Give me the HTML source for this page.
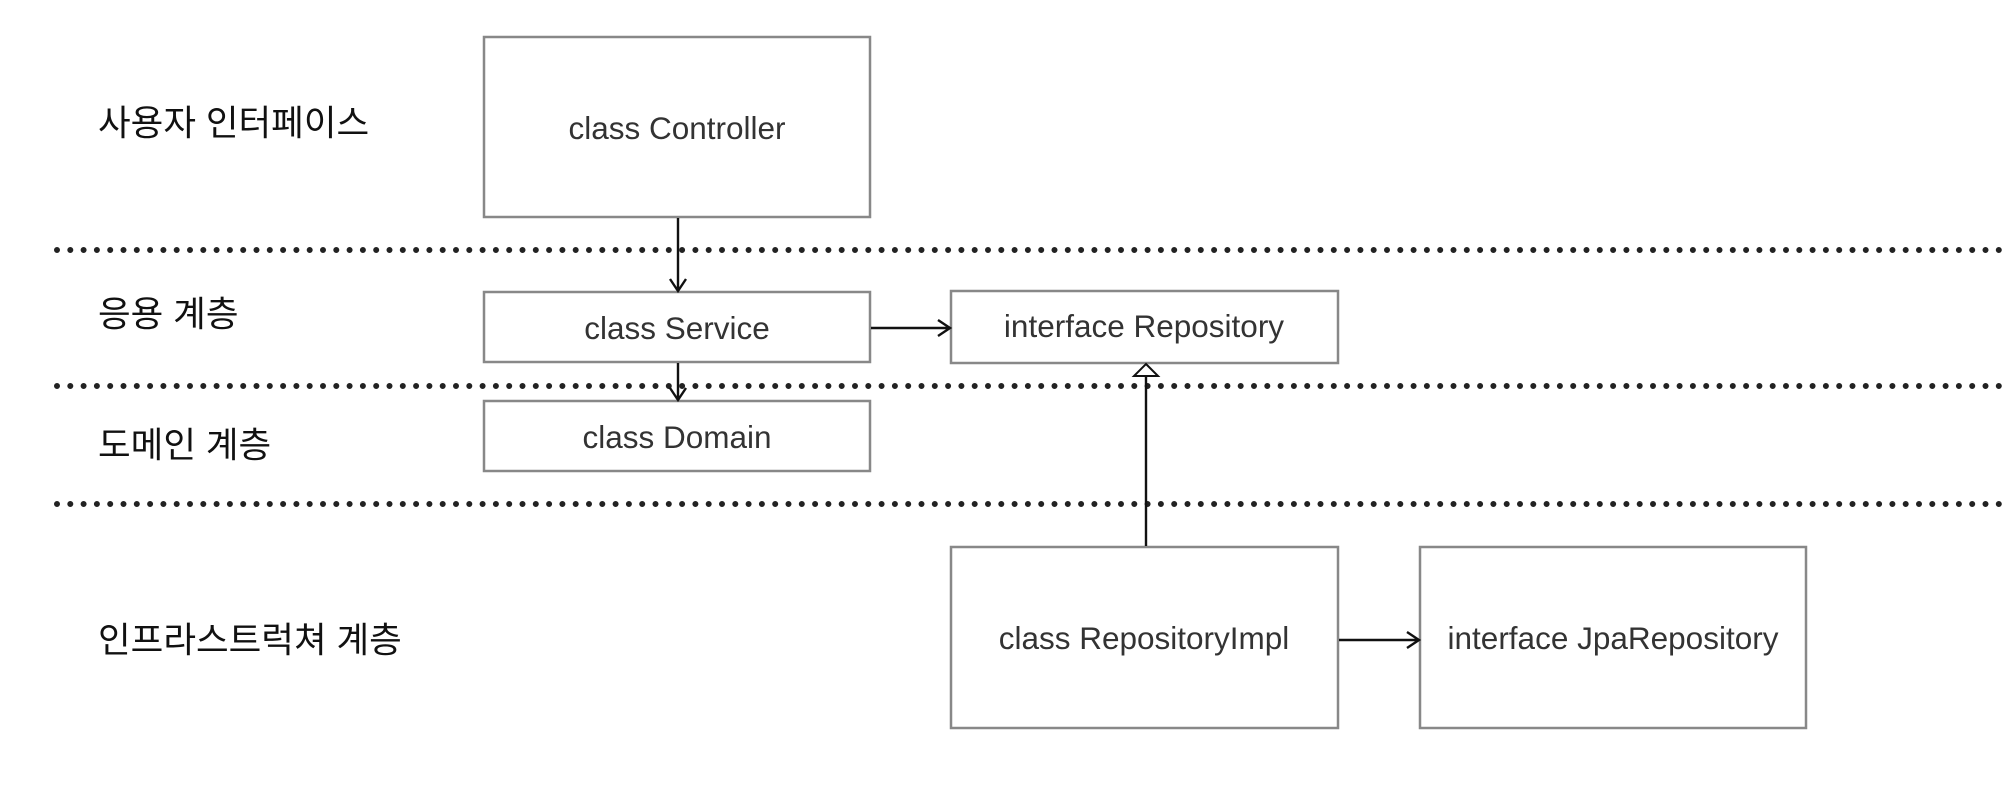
<!DOCTYPE html>
<html><head><meta charset="utf-8"><style>
html,body{margin:0;padding:0;background:#fff;}
svg{display:block;}
.lbl{font-family:"Liberation Sans","Noto Sans CJK KR",sans-serif;font-size:35.5px;fill:#111;}
.bx{font-family:"Liberation Sans",sans-serif;font-size:31.5px;fill:#333;text-anchor:middle;dominant-baseline:central;}
rect{fill:#fff;stroke:#888;stroke-width:2.5;}
.dot{stroke:#222;stroke-width:6;stroke-linecap:round;stroke-dasharray:0 13.3;}
.ln{stroke:#111;stroke-width:2.4;fill:none;}
</style></head><body>
<svg width="2004" height="804" viewBox="0 0 2004 804" xmlns="http://www.w3.org/2000/svg">
<line class="dot" x1="57" y1="250" x2="2004" y2="250"/>
<line class="dot" x1="57" y1="386" x2="2004" y2="386"/>
<line class="dot" x1="57" y1="504" x2="2004" y2="504"/>

<text class="lbl" x="98" y="135">사용자 인터페이스</text>
<text class="lbl" x="98" y="326">응용 계층</text>
<text class="lbl" x="98" y="457">도메인 계층</text>
<text class="lbl" x="98" y="652">인프라스트럭쳐 계층</text>

<rect x="484" y="37" width="386" height="180"/>
<text class="bx" x="677" y="128">class Controller</text>
<rect x="484" y="292" width="386" height="70"/>
<text class="bx" x="677" y="328">class Service</text>
<rect x="484" y="401" width="386" height="70"/>
<text class="bx" x="677" y="437">class Domain</text>
<rect x="951" y="291" width="387" height="72"/>
<text class="bx" x="1144" y="326">interface Repository</text>
<rect x="951" y="547" width="387" height="181"/>
<text class="bx" x="1144" y="638">class RepositoryImpl</text>
<rect x="1420" y="547" width="386" height="181"/>
<text class="bx" x="1613" y="638">interface JpaRepository</text>

<path class="ln" d="M678 218 V291 M670 279 L678 291 L686 279"/>
<path class="ln" d="M678 363 V400 M670 388 L678 400 L686 388"/>
<path class="ln" d="M871 328 H950 M938 320 L950 328 L938 336"/>
<path class="ln" d="M1339 640 H1419 M1407 632 L1419 640 L1407 648"/>
<path class="ln" d="M1146 546 V377"/>
<path d="M1146 364 L1158 376 L1134 376 Z" fill="#fff" stroke="#111" stroke-width="2"/>
</svg>
</body></html>
